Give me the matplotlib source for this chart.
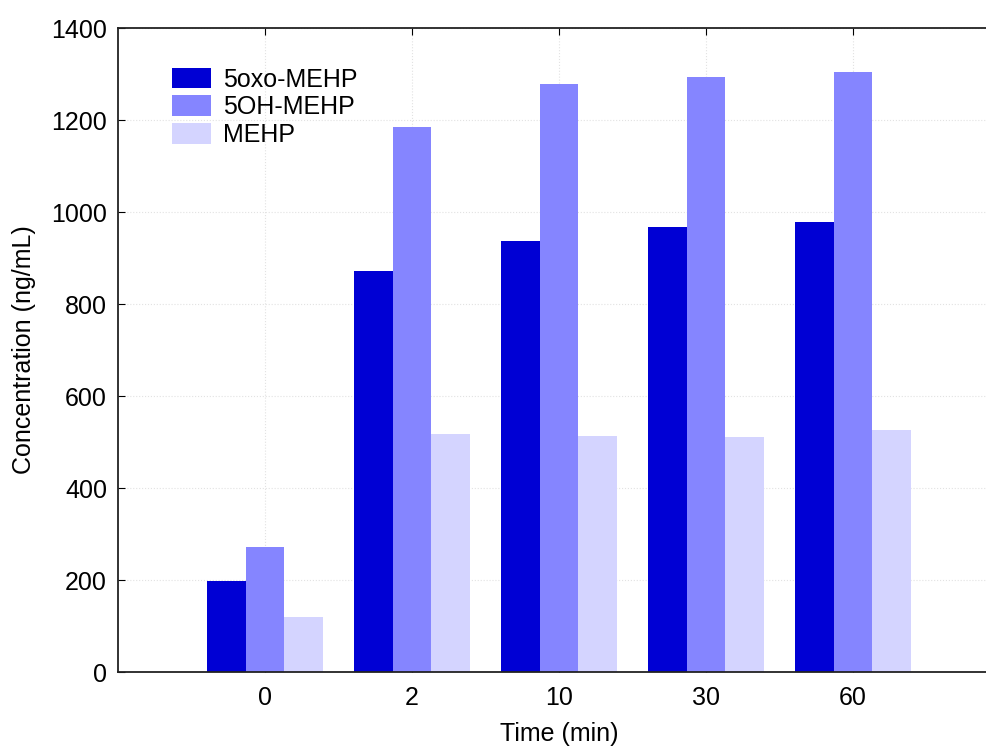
import numpy as np
import matplotlib
matplotlib.use("Agg")
import matplotlib.pyplot as plt

plt.rcParams['font.family'] = ['Liberation Sans', 'DejaVu Sans']

# data
times = ['0', '2', '10', '30', '60']
oxo_mehp = [198, 872, 937, 967, 978]
oh_mehp = [272, 1185, 1278, 1293, 1304]
mehp = [120, 517, 513, 511, 526]

series = [('5oxo-MEHP', oxo_mehp, '#0000d4'),
          ('5OH-MEHP', oh_mehp, '#8585ff'),
          ('MEHP', mehp, '#d4d4ff')]

fig = plt.figure(figsize=(9.87, 7.49), dpi=100)
ax = fig.add_axes([118 / 987, 1 - 672 / 749, 882 / 987, (672 - 28) / 749])

x = np.arange(len(times))
w = 0.265
for i, (name, vals, col) in enumerate(series):
    ax.bar(x + (i - 1) * w, vals, width=w, color=col, label=name, zorder=2)

ax.set_xlim(-1, 5)
ax.set_ylim(0, 1400)
ax.set_yticks(np.arange(0, 1401, 200))
ax.set_xticks(x)
ax.set_xticklabels(times)
ax.tick_params(axis='both', direction='in', length=5, labelsize=18, top=True, right=True, pad=8)
ax.tick_params(axis='x', pad=10)
for s in ax.spines.values():
    s.set_linewidth(1.3)
    s.set_color('#222222')

ax.grid(True, linestyle=':', color='#e2e2e2', linewidth=0.8, zorder=0)
ax.set_axisbelow(True)

ax.set_xlabel('Time (min)', fontsize=18, labelpad=9)
ax.set_ylabel('Concentration (ng/mL)', fontsize=18, labelpad=11)

ax.legend(loc='upper left', bbox_to_anchor=(0.047, 0.958), frameon=False, fontsize=18,
          handlelength=1.55, handleheight=0.9, labelspacing=0.15, handletextpad=0.5,
          borderpad=0)

fig.savefig('out.png', dpi=100)
